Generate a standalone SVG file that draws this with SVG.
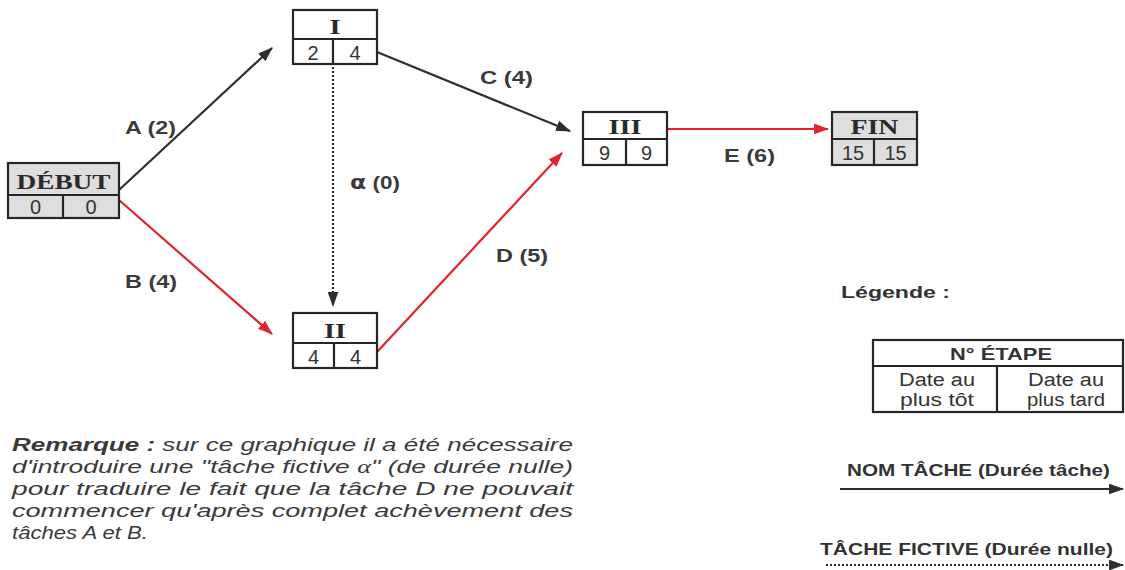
<svg xmlns="http://www.w3.org/2000/svg" width="1125" height="570" viewBox="0 0 1125 570">
  <style>
    .box { fill: #ffffff; stroke: #262626; stroke-width: 2.2; }
    .box.grey { fill: #dedede; }
    .sep { stroke: #262626; stroke-width: 2.2; fill: none; }
    .title { font-family: "Liberation Serif", serif; font-weight: bold; font-size: 22px; fill: #2a2a2a; text-anchor: middle; }
    .num { font-family: "Liberation Sans", Arial, sans-serif; font-size: 20px; fill: #333; text-anchor: middle; }
    .lbl { font-family: "Liberation Sans", Arial, sans-serif; font-weight: bold; font-size: 18px; fill: #3a3a3a; }
    .dark { stroke: #2e2e2e; stroke-width: 2.2; fill: none; }
    .red { stroke: #e3222d; stroke-width: 2.2; fill: none; }
    .dot { stroke: #2e2e2e; stroke-width: 2.2; fill: none; stroke-dasharray: 2 2; }
    .note { font-family: "Liberation Sans", Arial, sans-serif; font-style: italic; font-size: 19px; fill: #3a3a3a; }
    .leg { font-family: "Liberation Sans", Arial, sans-serif; font-size: 18px; fill: #333; text-anchor: middle; }
    .legb { font-family: "Liberation Sans", Arial, sans-serif; font-weight: bold; font-size: 17px; fill: #333; }
  </style>
  <defs>
    <marker id="ahDark" viewBox="0 0 14 10" refX="13" refY="5" markerUnits="userSpaceOnUse" markerWidth="15" markerHeight="11" orient="auto">
      <path d="M0,0 L14,5 L0,10 Z" fill="#2e2e2e"/>
    </marker>
    <marker id="ahRed" viewBox="0 0 14 10" refX="13" refY="5" markerUnits="userSpaceOnUse" markerWidth="15" markerHeight="11" orient="auto">
      <path d="M0,0 L14,5 L0,10 Z" fill="#e3222d"/>
    </marker>
  </defs>

  <!-- connectors -->
  <g id="connectors">
    <line class="dark" x1="119" y1="190" x2="272" y2="48" marker-end="url(#ahDark)"/>
    <line class="red" x1="119" y1="200" x2="272" y2="334" marker-end="url(#ahRed)"/>
    <line class="dark" x1="377" y1="52" x2="570" y2="131" marker-end="url(#ahDark)"/>
    <line class="red" x1="377" y1="352" x2="562" y2="153" marker-end="url(#ahRed)"/>
    <line class="red" x1="667" y1="129" x2="828" y2="129" marker-end="url(#ahRed)"/>
    <line class="dot" x1="333" y1="67" x2="333" y2="306" marker-end="url(#ahDark)"/>

    <text class="lbl" x="125" y="134" textLength="51" lengthAdjust="spacingAndGlyphs">A (2)</text>
    <text class="lbl" x="125" y="288" textLength="52" lengthAdjust="spacingAndGlyphs">B (4)</text>
    <text class="lbl" x="480" y="84" textLength="53" lengthAdjust="spacingAndGlyphs">C (4)</text>
    <text class="lbl" x="496" y="262" textLength="52" lengthAdjust="spacingAndGlyphs">D (5)</text>
    <text class="lbl" x="724" y="162" textLength="51" lengthAdjust="spacingAndGlyphs">E (6)</text>
    <text class="lbl" x="350" y="189" textLength="50" lengthAdjust="spacingAndGlyphs"><tspan font-family="'DejaVu Sans', sans-serif" font-size="19">α</tspan> (0)</text>
  </g>

  <!-- stages -->
  <g id="debut">
    <rect class="box grey" x="8" y="163" width="111" height="55"/>
    <line class="sep" x1="8" y1="195" x2="119" y2="195"/>
    <line class="sep" x1="63" y1="195" x2="63" y2="218"/>
    <text class="title" x="63.5" y="189" font-size="23" textLength="94" lengthAdjust="spacingAndGlyphs">DÉBUT</text>
    <text class="num" x="35.5" y="214">0</text>
    <text class="num" x="91" y="214">0</text>
  </g>

  <g id="etape-I">
    <rect class="box" x="293" y="10" width="84" height="54"/>
    <line class="sep" x1="293" y1="39" x2="377" y2="39"/>
    <line class="sep" x1="333" y1="39" x2="333" y2="64"/>
    <text class="title" x="335" y="34" textLength="11" lengthAdjust="spacingAndGlyphs">I</text>
    <text class="num" x="313" y="60">2</text>
    <text class="num" x="355" y="60">4</text>
  </g>

  <g id="etape-II">
    <rect class="box" x="293" y="313" width="84" height="55"/>
    <line class="sep" x1="293" y1="343" x2="377" y2="343"/>
    <line class="sep" x1="334" y1="343" x2="334" y2="368"/>
    <text class="title" x="335" y="338" textLength="22" lengthAdjust="spacingAndGlyphs">II</text>
    <text class="num" x="313.5" y="364">4</text>
    <text class="num" x="355.5" y="364">4</text>
  </g>

  <g id="etape-III">
    <rect class="box" x="583" y="112" width="84" height="53"/>
    <line class="sep" x1="583" y1="139" x2="667" y2="139"/>
    <line class="sep" x1="626" y1="139" x2="626" y2="165"/>
    <text class="title" x="625" y="134" textLength="33" lengthAdjust="spacingAndGlyphs">III</text>
    <text class="num" x="604.5" y="160">9</text>
    <text class="num" x="646.5" y="160">9</text>
  </g>

  <g id="fin">
    <rect class="box grey" x="832" y="112" width="85" height="53"/>
    <line class="sep" x1="832" y1="139" x2="917" y2="139"/>
    <line class="sep" x1="874" y1="139" x2="874" y2="165"/>
    <text class="title" x="874.5" y="134" textLength="48" lengthAdjust="spacingAndGlyphs">FIN</text>
    <text class="num" x="853" y="160">15</text>
    <text class="num" x="895.5" y="160">15</text>
  </g>

  <!-- legend -->
  <g id="legende">
    <text class="legb" x="841" y="298" textLength="109" lengthAdjust="spacingAndGlyphs">Légende :</text>
    <rect class="box" x="873" y="340" width="250" height="72"/>
    <line class="sep" x1="873" y1="366" x2="1123" y2="366"/>
    <line class="sep" x1="997" y1="366" x2="997" y2="412"/>
    <text class="legb" x="1001" y="360" text-anchor="middle" textLength="102" lengthAdjust="spacingAndGlyphs">N° ÉTAPE</text>
    <text class="leg" x="937" y="386" textLength="76" lengthAdjust="spacingAndGlyphs">Date au</text>
    <text class="leg" x="937" y="406" textLength="74" lengthAdjust="spacingAndGlyphs">plus tôt</text>
    <text class="leg" x="1066" y="386" textLength="76" lengthAdjust="spacingAndGlyphs">Date au</text>
    <text class="leg" x="1066" y="406" textLength="78" lengthAdjust="spacingAndGlyphs">plus tard</text>

    <text class="legb" x="847" y="476" textLength="263" lengthAdjust="spacingAndGlyphs">NOM TÂCHE (Durée tâche)</text>
    <line class="dark" x1="840" y1="489" x2="1123" y2="489" marker-end="url(#ahDark)"/>
    <text class="legb" x="820" y="555" textLength="293" lengthAdjust="spacingAndGlyphs">TÂCHE FICTIVE (Durée nulle)</text>
    <line class="dot" x1="826" y1="565" x2="1123" y2="565" marker-end="url(#ahDark)"/>
  </g>

  <!-- remark -->
  <g id="remarque">
    <text class="note" x="12" y="451" textLength="561" lengthAdjust="spacingAndGlyphs"><tspan font-weight="bold">Remarque :</tspan> sur ce graphique il a été nécessaire</text>
    <text class="note" x="12" y="473" textLength="561" lengthAdjust="spacingAndGlyphs">d'introduire une "tâche fictive <tspan font-family="'Liberation Serif', serif">α</tspan>" (de durée nulle)</text>
    <text class="note" x="12" y="495" textLength="561" lengthAdjust="spacingAndGlyphs">pour traduire le fait que la tâche D ne pouvait</text>
    <text class="note" x="12" y="517" textLength="561" lengthAdjust="spacingAndGlyphs">commencer qu'après complet achèvement des</text>
    <text class="note" x="12" y="539" textLength="136" lengthAdjust="spacingAndGlyphs">tâches A et B.</text>
  </g>
</svg>
